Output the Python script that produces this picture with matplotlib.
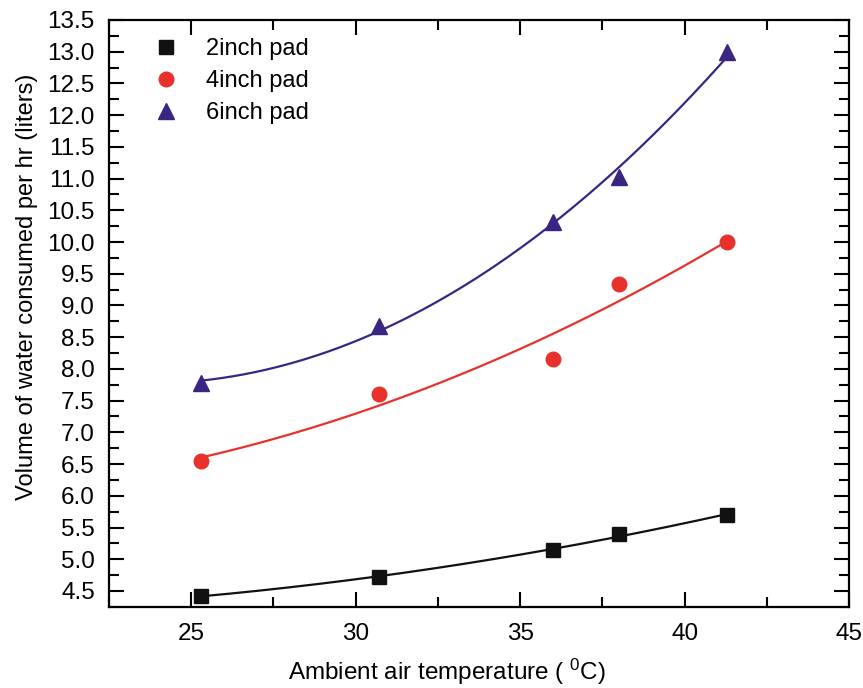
import numpy as np
import matplotlib
matplotlib.use('Agg')
import matplotlib.pyplot as plt
from matplotlib.ticker import MultipleLocator

plt.rcParams['font.family'] = ['Liberation Sans', 'DejaVu Sans']
plt.rcParams['mathtext.fontset'] = 'custom'
plt.rcParams['mathtext.rm'] = 'Liberation Sans'

# temperature (degC)
temp = [25.3, 30.7, 36.0, 38.0, 41.3]

# water consumed per hr (liters)
pad2 = [4.42, 4.72, 5.15, 5.39, 5.70]
pad4 = [6.55, 7.61, 8.16, 9.34, 10.00]
pad6 = [7.78, 8.68, 10.32, 11.02, 13.00]

labels = ['2inch pad', '4inch pad', '6inch pad']
colors = ['#111111', '#e8312a', '#3b2582']
markers = ['s', 'o', '^']
msizes = [9.5, 10.5, 11]

fig, ax = plt.subplots(figsize=(8.63, 6.88), dpi=100)
fig.subplots_adjust(left=0.126, right=0.984, top=0.971, bottom=0.118)

xx = np.linspace(min(temp), max(temp), 200)
for y, lab, c, m, ms in zip([pad2, pad4, pad6], labels, colors, markers, msizes):
    # polynomial fit line (2nd order)
    p = np.polyfit(temp, y, 2)
    ax.plot(xx, np.polyval(p, xx), color=c, linewidth=1.6)
    ax.plot(temp, y, linestyle='none', marker=m, markersize=ms, color=c, label=lab)

ax.set_xlim(22.5, 45)
ax.set_ylim(4.25, 13.5)
ax.xaxis.set_major_locator(MultipleLocator(5))
ax.xaxis.set_minor_locator(MultipleLocator(2.5))
ax.yaxis.set_major_locator(MultipleLocator(0.5))
ax.yaxis.set_minor_locator(MultipleLocator(0.25))
ax.yaxis.set_major_formatter(matplotlib.ticker.FormatStrFormatter('%.1f'))

ax.tick_params(which='both', direction='in', top=True, right=True, width=1.5, labelsize=17.5)
ax.tick_params(which='major', length=11)
ax.tick_params(which='minor', length=7)
ax.tick_params(axis='y', pad=10)
ax.tick_params(axis='x', pad=12)
for s in ax.spines.values():
    s.set_linewidth(1.6)

ax.set_xlabel('Ambient air temperature ( $\\mathregular{^0}$C)', fontsize=17.5, labelpad=10)
ax.xaxis.set_label_coords(0.457, -0.085)
ax.set_ylabel('Volume of water consumed per hr (liters)', fontsize=17, labelpad=8)
ax.yaxis.set_label_coords(-0.095, 0.545)

ax.legend(loc='upper left', frameon=False, fontsize=17, handletextpad=0.7,
          labelspacing=0.42, bbox_to_anchor=(0.017, 1.005))

plt.savefig('out.png', dpi=100)
